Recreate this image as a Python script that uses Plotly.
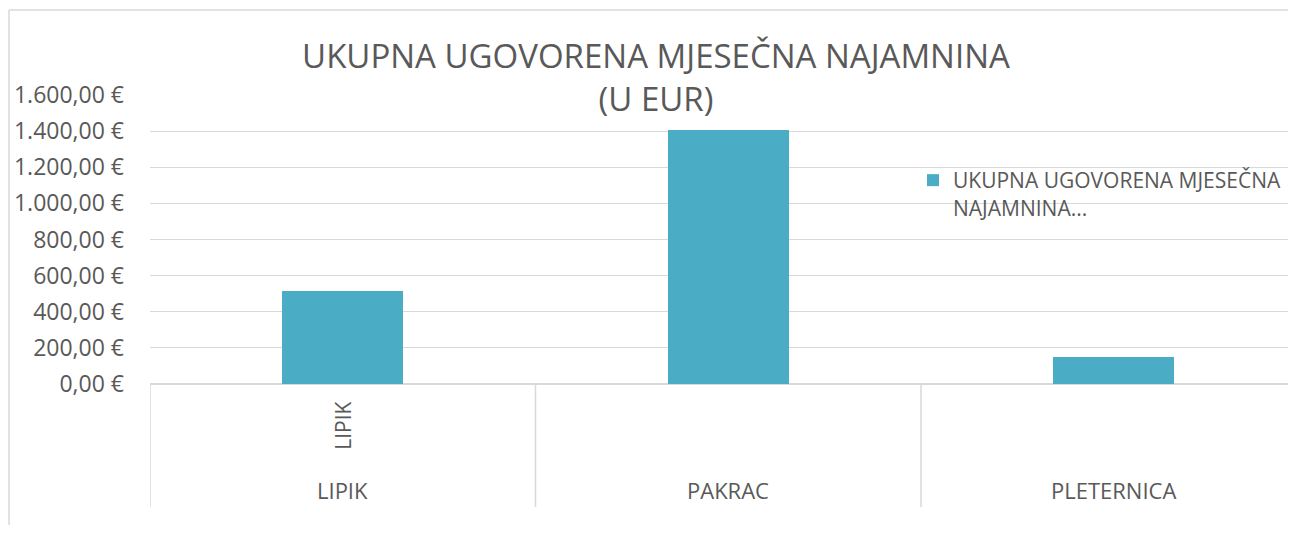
import plotly.graph_objects as go

categories = ["LIPIK", "PAKRAC", "PLETERNICA"]
inner_labels = ["LIPIK", "", ""]
values = [515, 1406, 148]
series_name = "UKUPNA UGOVORENA MJESEČNA<br>NAJAMNINA..."
title_text = "UKUPNA UGOVORENA MJESEČNA NAJAMNINA<br>(U EUR)"
y_ticks = [0, 200, 400, 600, 800, 1000, 1200, 1400, 1600]
y_tick_labels = ["0,00 €", "200,00 €", "400,00 €", "600,00 €", "800,00 €",
                 "1.000,00 €", "1.200,00 €", "1.400,00 €", "1.600,00 €"]

GRID = "#d9d9d9"
TXT = "#595959"
FONT = "Open Sans, Noto Sans, sans-serif"

OFF = 8  # page body margin offset
W, H = 1296 - OFF, 533 - 2 * OFF
L, R, T = 150 - OFF, 0, 95 - OFF
B = H - (384 - OFF)
plot_w = W - L - R
plot_h = H - T - B
cat_px = 385.5
x_end = plot_w / cat_px - 0.5


def py(ref_px):
    """reference-image y pixel -> paper y"""
    return (384 - ref_px) / plot_h


def px(ref_px):
    """reference-image x pixel -> paper x"""
    return (ref_px - 150) / plot_w


fig = go.Figure()
fig.add_trace(go.Bar(
    x=categories, y=values, name=series_name,
    marker=dict(color="#4BACC6", line=dict(width=0)),
    width=0.313, showlegend=True,
))

annotations = []
for c, lab in zip(categories, inner_labels):
    if lab:
        annotations.append(dict(x=c, xref="x", y=py(426), yref="paper", text=lab,
                                textangle=-90, showarrow=False,
                                xanchor="center", yanchor="middle",
                                font=dict(family=FONT, size=21, color=TXT)))
for c in categories:
    annotations.append(dict(x=c, xref="x", y=py(490), yref="paper", text=c,
                            showarrow=False, xanchor="center", yanchor="middle",
                            font=dict(family=FONT, size=22, color=TXT)))

shapes = []
for i in range(len(categories)):
    shapes.append(dict(type="line", xref="x", yref="paper", x0=i - 0.5, x1=i - 0.5,
                       y0=0, y1=py(507), line=dict(color=GRID, width=1.5)))
# chart frame (left & top)
frame_x = px(OFF + 1)
shapes.append(dict(type="line", xref="paper", yref="paper", x0=frame_x, x1=frame_x,
                   y0=py(545), y1=py(10), line=dict(color=GRID, width=1.5)))
shapes.append(dict(type="line", xref="paper", yref="paper", x0=frame_x, x1=1.05,
                   y0=py(10), y1=py(10), line=dict(color=GRID, width=1.5)))

fig.update_layout(
    width=W, height=H,
    margin=dict(l=L, r=R, t=T, b=B),
    paper_bgcolor="white", plot_bgcolor="white",
    title=dict(text=title_text, x=(656 - OFF) / W, xref="container", xanchor="center",
               y=1 - (68 - OFF) / H, yref="container", yanchor="middle",
               font=dict(family=FONT, size=33, color=TXT)),
    font=dict(family=FONT, color=TXT),
    xaxis=dict(range=[-0.5, x_end], showticklabels=False, showgrid=False,
               showline=False, zeroline=False, ticks=""),
    yaxis=dict(range=[0, 1600], tickvals=y_ticks, ticktext=y_tick_labels,
               showgrid=True, gridcolor=GRID, gridwidth=1.3,
               zeroline=True, zerolinecolor=GRID, zerolinewidth=1.8,
               showline=False, ticks="", ticklabelstandoff=25,
               tickfont=dict(family=FONT, size=23, color=TXT)),
    legend=dict(x=px(913), y=py(160), xanchor="left", yanchor="top",
                valign="top", bgcolor="rgba(0,0,0,0)",
                font=dict(family=FONT, size=21, color=TXT)),
    annotations=annotations,
    shapes=shapes,
    bargap=0,
)

fig.write_html("out.html")
